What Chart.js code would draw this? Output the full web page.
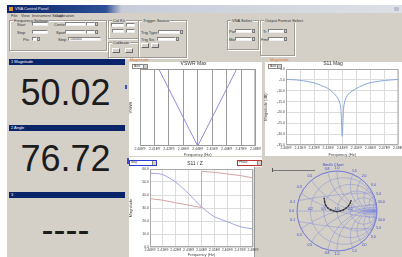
<!DOCTYPE html>
<html>
<head>
<meta charset="utf-8">
<script src="https://cdn.jsdelivr.net/npm/chart.js@4.4.0/dist/chart.umd.min.js"></script>
<style>
body{margin:0;width:402px;height:257px;overflow:hidden;background:#fff;position:relative;font-family:"Liberation Sans",Arial,sans-serif}
#page{position:absolute;left:0;top:0;width:402px;height:257px;filter:blur(0.3px)}
#page div,#page canvas{position:absolute}
.grp{border:1px solid #a09c94;box-shadow:inset 1px 1px 0 #fff,1px 1px 0 #fff}
.grp span{position:absolute;top:-3px;left:3px;background:#d4d0c8;font-size:4px;line-height:5px;padding:0 1px;color:#333;white-space:nowrap}
.tb{background:#fff;border:1px solid #808080;border-right-color:#eee;border-bottom-color:#eee;box-sizing:border-box;font-size:3px;line-height:3px;color:#333;padding-left:1px;white-space:nowrap;overflow:hidden}
.sp{background:#d4d0c8;border:1px solid #7a7a7a;box-sizing:border-box}
.lbl{font-size:4px;line-height:4px;color:#333;white-space:nowrap}
.btn{background:#d4d0c8;border:1px solid #666;border-top-color:#fff;border-left-color:#fff;box-sizing:border-box}
.hdr{left:9px;width:116px;height:6px;background:#0a246a;color:#fff;font-size:4px;line-height:6px;padding-left:2px;box-sizing:border-box}
.big{left:7px;width:117px;text-align:center;font-size:36px;line-height:36px;color:#1c1c1c}
.tab{font-size:4px;line-height:4px;color:#e07a30}
.combo{background:#fff;border:1px solid #888;box-sizing:border-box;font-size:3px;line-height:3px;color:#333;padding-left:1px}
.combo i{position:absolute;right:0;top:0;bottom:0;width:3px;background:#d4d0c8;border-left:1px solid #888}
</style>
</head>
<body>
<div id="page">
<!-- window frame -->
<div style="left:7px;top:5px;width:395px;height:252px;background:#d4d0c8"></div>
<div style="left:7px;top:5px;width:395px;height:8px;background:linear-gradient(90deg,#0a246a 0,#2c4f95 25%,#c7ccd8 29%,#dde0e6 100%)"></div>
<div style="left:9px;top:7px;width:4px;height:4px;background:#e0902c"></div>
<div class="lbl" style="left:15px;top:7px;color:#e8ecf8">VNA Control Panel</div>
<div style="left:394px;top:7px;width:5px;height:4px;background:#b9bfcc"></div>
<div class="lbl" style="left:11px;top:14px">File</div>
<div class="lbl" style="left:21px;top:14px">View</div>
<div class="lbl" style="left:32px;top:14px">Instrument Setup</div>
<div class="lbl" style="left:55px;top:14px">Calibration</div>

<!-- control groups -->
<div class="grp" style="left:9px;top:20px;width:96px;height:29px"><span>Frequency Settings</span></div>
<div class="lbl" style="left:17px;top:23px">Start</div><div class="tb" style="left:32px;top:22px;width:16px;height:4px"></div>
<div class="lbl" style="left:17px;top:31px">Stop</div><div class="tb" style="left:32px;top:30px;width:16px;height:4px"></div>
<div class="lbl" style="left:23px;top:38px">Pts</div><div class="tb" style="left:32px;top:37px;width:5px;height:4px"></div><div class="sp" style="left:37px;top:37px;width:3px;height:4px"></div>
<div class="lbl" style="left:54px;top:23px">Center</div><div class="tb" style="left:65px;top:22px;width:21px;height:4px"></div><div class="tb" style="left:86px;top:22px;width:9px;height:4px"></div><div class="sp" style="left:95px;top:22px;width:3px;height:4px"></div>
<div class="lbl" style="left:56px;top:31px">Span</div><div class="tb" style="left:65px;top:30px;width:21px;height:4px"></div><div class="tb" style="left:86px;top:30px;width:9px;height:4px"></div><div class="sp" style="left:95px;top:30px;width:3px;height:4px"></div>
<div class="lbl" style="left:58px;top:38px">Step</div><div class="tb" style="left:68px;top:37px;width:33px;height:4px">1000000</div>

<div class="grp" style="left:108px;top:20px;width:29px;height:17px"><span>Cal Kit</span></div>
<div class="tb" style="left:111px;top:23px;width:13px;height:4px"></div><div class="tb" style="left:126px;top:23px;width:9px;height:4px"></div>
<div class="tb" style="left:112px;top:29px;width:12px;height:4px"></div><div class="tb" style="left:126px;top:29px;width:9px;height:4px"></div>
<div class="grp" style="left:108px;top:42px;width:29px;height:14px"><span>Calibrate</span></div>
<div class="btn" style="left:112px;top:48px;width:8px;height:5px"></div><div class="btn" style="left:125px;top:48px;width:8px;height:5px"></div>

<div class="grp" style="left:138px;top:20px;width:47px;height:36px"><span>Trigger Source</span></div>
<div class="lbl" style="left:141px;top:31px">Trig Type</div><div class="tb" style="left:158px;top:30px;width:22px;height:4px"></div><div class="sp" style="left:180px;top:30px;width:3px;height:4px"></div>
<div class="lbl" style="left:141px;top:38px">Trig Src</div><div class="tb" style="left:157px;top:37px;width:19px;height:4px"></div><div class="sp" style="left:176px;top:37px;width:3px;height:4px"></div>
<div class="btn" style="left:141px;top:43px;width:8px;height:5px"></div><div class="btn" style="left:151px;top:43px;width:8px;height:5px"></div>

<div class="grp" style="left:227px;top:20px;width:30px;height:28px"><span>VNA Select</span></div>
<div class="lbl" style="left:229px;top:30px">Port</div><div class="tb" style="left:235px;top:29px;width:17px;height:4px"></div><div class="sp" style="left:252px;top:29px;width:3px;height:4px"></div>
<div class="lbl" style="left:229px;top:38px">Mod</div><div class="tb" style="left:235px;top:37px;width:17px;height:4px"></div><div class="sp" style="left:252px;top:37px;width:3px;height:4px"></div>

<div class="grp" style="left:260px;top:20px;width:33px;height:34px"><span>Output Format Select</span></div>
<div class="lbl" style="left:263px;top:30px">Tr</div><div class="tb" style="left:268px;top:29px;width:16px;height:4px"></div><div class="sp" style="left:284px;top:29px;width:3px;height:4px"></div>
<div class="lbl" style="left:261px;top:38px">Fmt</div><div class="tb" style="left:268px;top:37px;width:16px;height:4px"></div><div class="sp" style="left:284px;top:37px;width:3px;height:4px"></div>

<!-- left readouts -->
<div class="hdr" style="top:59px">1 Magnitude</div>
<div class="big" style="top:75px">50.02</div>
<div class="hdr" style="top:125px">2 Angle</div>
<div class="big" style="top:141px">76.72</div>
<div class="hdr" style="top:192px">3</div>
<div class="big" style="top:212px">----</div>
<div style="left:125px;top:85px;width:2px;height:4px;background:#3a4ed0"></div>
<div style="left:127px;top:158px;width:2px;height:6px;background:#3a4ed0"></div>

<!-- chart panels -->
<div style="left:129px;top:62px;width:133px;height:94px;background:#fff"></div>
<div style="left:265px;top:62px;width:137px;height:94px;background:#fff"></div>
<div style="left:129px;top:157px;width:133px;height:100px;background:#fff"></div>
<div style="left:254px;top:167px;width:8px;height:90px;background:#d4d0c8;border-left:1px solid #999"></div>
<div class="tab" style="left:130px;top:58px">Magnitude</div>
<div class="tab" style="left:270px;top:58px">Magnitude</div>
<canvas id="vswr" width="134" height="100" style="left:128px;top:57px"></canvas>
<canvas id="s11" width="142" height="100" style="left:263px;top:57px"></canvas>
<canvas id="dual" width="134" height="100" style="left:128px;top:157px"></canvas>
<canvas id="smith" width="139" height="100" style="left:263px;top:157px"></canvas>
<div class="combo" style="left:132px;top:64px;width:16px;height:5px">Auto<i></i></div>
<div class="combo" style="left:268px;top:64px;width:14px;height:5px">Auto<i></i></div>
<div class="combo" style="left:129px;top:160px;width:28px;height:6px;border:1px solid #2f3bd0">Mag<i></i></div>
<div class="combo" style="left:237px;top:160px;width:25px;height:6px;border:1px solid #b83434">Phase<i></i></div>
<div style="left:272px;top:170px;width:43px;height:1px;background:#777"></div>
<div style="left:272px;top:168px;width:1px;height:4px;background:#555"></div>
</div>

<script>
// frequency axis (MHz)
const freqTicks = [2400, 2410, 2420, 2430, 2440, 2450, 2460, 2470, 2480];
const freqLabels = ['2.40E9', '2.41E9', '2.42E9', '2.43E9', '2.44E9', '2.45E9', '2.46E9', '2.47E9', '2.48E9'];

// VSWR trace
const vswrFreq = [2413, 2440, 2467];
const vswrVals = [2.0, 1.0, 2.0];

// S11 magnitude (dB)
const s11Freq = [2400, 2410, 2420, 2425, 2430, 2433, 2436, 2438, 2439, 2440, 2441, 2442, 2444, 2447, 2450, 2455, 2460, 2470, 2480];
const s11Db = [-4.8, -5.2, -6.4, -7.6, -9.0, -10.6, -12.6, -15.0, -18.0, -31.0, -18.0, -14.5, -11.8, -10.2, -9.0, -7.4, -6.3, -5.3, -4.8];

// magnitude / phase pair
const magFreq = [2400, 2405, 2410, 2420, 2430, 2440, 2450, 2460, 2470, 2480];
const magVals = [56.7, 56.5, 55.7, 49.9, 41.0, 30.9, 23.3, 19.5, 15.7, 13.9];
const phaseFreq = [2400, 2410, 2420, 2430, 2440, 2440, 2450, 2460, 2470, 2480];
const phaseVals = [43, 36, 24, 13, 2, 169, 165, 157, 150, 139];

// smith chart trace (reflection coefficient)
const smithRe = [-0.32, -0.31, -0.28, -0.23, -0.16, -0.08, 0.0, 0.08, 0.16, 0.23, 0.29, 0.33, 0.35];
const smithIm = [0.33, 0.24, 0.15, 0.08, 0.03, 0.0, -0.02, 0.0, 0.03, 0.08, 0.14, 0.21, 0.27];
const smithR = [0, 0.2, 0.5, 1, 2, 5];
const smithX = [0.1, 0.3, 0.5, 0.8, 1, 1.5, 2, 3, 5, 10];

Chart.defaults.animation = false;
Chart.defaults.font.family = 'Liberation Sans';
Chart.defaults.font.size = 3.5;
Chart.defaults.color = '#444';
Chart.defaults.plugins.legend.display = false;
Chart.defaults.plugins.tooltip.enabled = false;

const frame = {
    id: 'frame',
    afterDraw(chart, args, opts) {
        const a = chart.chartArea, ctx = chart.ctx;
        ctx.save();
        ctx.strokeStyle = opts.color || '#888';
        ctx.lineWidth = 1;
        ctx.strokeRect(a.left + 0.5, a.top + 0.5, a.right - a.left - 1, a.bottom - a.top - 1);
        ctx.restore();
    }
};

function fixW(w) { return s => { s.width = w; }; }
function fixH(h) { return s => { s.height = h; }; }
function freqLabel(v) { const i = freqTicks.indexOf(v); return i < 0 ? '' : freqLabels[i]; }
function pts(xs, ys) { return xs.map((x, i) => ({ x: x, y: ys[i] })); }

function freqAxis(h, gridColor) {
    return {
        type: 'linear', min: freqTicks[0], max: freqTicks[freqTicks.length - 1],
        afterFit: fixH(h),
        ticks: { stepSize: 10, autoSkip: false, maxRotation: 0, padding: 1, callback: freqLabel },
        grid: { color: gridColor, drawTicks: false },
        border: { display: false },
        title: { display: true, text: 'Frequency (Hz)', padding: 0, font: { size: 4 } }
    };
}

function titleOpt(text) {
    return { display: true, text: text, font: { size: 5, weight: 'normal' }, color: '#333', padding: { top: 4, bottom: 2 } };
}

// VSWR
new Chart(document.getElementById('vswr'), {
    type: 'scatter',
    data: { datasets: [{ data: pts(vswrFreq, vswrVals), showLine: true, borderColor: '#8c8ce0', borderWidth: 1, pointRadius: 0 }] },
    options: {
        responsive: false,
        layout: { padding: { left: 0, right: 3, top: 0, bottom: 0 } },
        plugins: { title: titleOpt('VSWR Max'), frame: { color: '#999' } },
        scales: {
            x: freqAxis(11, '#9a9a9a'),
            y: {
                min: 1, max: 2, afterFit: fixW(12),
                ticks: { display: false }, grid: { display: false }, border: { display: false },
                title: { display: true, text: 'VSWR', padding: 0, font: { size: 4 } }
            }
        }
    },
    plugins: [frame]
});

// S11 magnitude
new Chart(document.getElementById('s11'), {
    type: 'scatter',
    data: { datasets: [{ data: pts(s11Freq, s11Db), showLine: true, tension: 0.3, borderColor: '#86a8dc', borderWidth: 1, pointRadius: 0 }] },
    options: {
        responsive: false,
        layout: { padding: { left: 0, right: 2, top: 0, bottom: 0 } },
        plugins: { title: titleOpt('S11 Mag'), frame: { color: '#aaa' } },
        scales: {
            x: freqAxis(12, '#dcdcdc'),
            y: {
                min: -35, max: 0, afterFit: fixW(23),
                ticks: { stepSize: 5, padding: 1, callback: v => v.toFixed(1) },
                grid: { color: '#dcdcdc', drawTicks: false }, border: { display: false },
                title: { display: true, text: 'Magnitude (dB)', padding: 0, font: { size: 4 } }
            }
        }
    },
    plugins: [frame]
});

// magnitude + phase
new Chart(document.getElementById('dual'), {
    type: 'scatter',
    data: {
        datasets: [
            { data: pts(magFreq, magVals), showLine: true, tension: 0.3, borderColor: '#9ea2e6', borderWidth: 1, pointRadius: 0, yAxisID: 'y' },
            { data: pts(phaseFreq, phaseVals), showLine: true, borderColor: '#d9a0a0', borderWidth: 1, pointRadius: 0, yAxisID: 'y2' }
        ]
    },
    options: {
        responsive: false,
        layout: { padding: 0 },
        plugins: { title: titleOpt('S11 / Z'), frame: { color: '#aaa' } },
        scales: {
            x: freqAxis(10, '#dcdcdc'),
            y: {
                position: 'left', min: 0, max: 60, afterFit: fixW(22),
                ticks: { stepSize: 5, padding: 1, callback: v => v.toFixed(1) },
                grid: { color: '#dcdcdc', drawTicks: false }, border: { display: false },
                title: { display: true, text: 'Magnitude', padding: 0, font: { size: 4 } }
            },
            y2: {
                position: 'right', min: -180, max: 180, afterFit: fixW(9),
                ticks: { stepSize: 30, padding: 1 },
                grid: { display: false }, border: { display: false }
            }
        }
    },
    plugins: [frame]
});

// smith chart
const smithGrid = {
    id: 'smithGrid',
    beforeDatasetsDraw(chart) {
        const ctx = chart.ctx, sx = chart.scales.x, sy = chart.scales.y;
        const px = v => sx.getPixelForValue(v), py = v => sy.getPixelForValue(v);
        const u = px(1) - px(0);
        ctx.save();
        ctx.strokeStyle = '#5862d6';
        ctx.lineWidth = 0.8;
        ctx.beginPath();
        ctx.arc(px(0), py(0), u, 0, 2 * Math.PI);
        ctx.stroke();
        ctx.clip();
        ctx.strokeStyle = '#7f88dc';
        ctx.lineWidth = 0.45;
        smithR.forEach(r => {
            ctx.beginPath();
            ctx.arc(px(r / (1 + r)), py(0), u / (1 + r), 0, 2 * Math.PI);
            ctx.stroke();
        });
        smithX.forEach(x => {
            [x, -x].forEach(s => {
                ctx.beginPath();
                ctx.arc(px(1), py(1 / s), u / x, 0, 2 * Math.PI);
                ctx.stroke();
            });
        });
        ctx.beginPath();
        ctx.moveTo(px(-1), py(0));
        ctx.lineTo(px(1), py(0));
        ctx.stroke();
        ctx.restore();

        ctx.save();
        ctx.fillStyle = '#3a46c8';
        ctx.font = '3.5px "Liberation Sans"';
        ctx.textAlign = 'center';
        ctx.textBaseline = 'middle';
        smithX.forEach(x => {
            [x, -x].forEach(s => {
                const d = s * s + 1;
                const gr = (s * s - 1) / d, gi = 2 * s / d;
                ctx.fillText(x.toFixed(1), px(gr * 1.13), py(gi * 1.13));
            });
        });
        ctx.fillText('0.0', px(-1.13), py(0));
        smithR.slice(1, 5).forEach(r => {
            ctx.fillText(r.toFixed(1), px((r - 1) / (r + 1)), py(0.06));
        });
        ctx.font = '4px "Liberation Sans"';
        ctx.fillText('Smith Chart', px(-0.1), py(1.22));
        ctx.restore();
    }
};

new Chart(document.getElementById('smith'), {
    type: 'scatter',
    data: { datasets: [{ data: pts(smithRe, smithIm), showLine: true, tension: 0.3, borderColor: '#505050', borderWidth: 1.2, pointRadius: 0.8, pointBackgroundColor: '#303030', pointBorderWidth: 0 }] },
    options: {
        responsive: false,
        layout: { padding: { left: 30, right: 21, top: 12, bottom: 0 } },
        scales: {
            x: { display: false, min: -1.1, max: 1.1 },
            y: { display: false, min: -1.1, max: 1.1 }
        }
    },
    plugins: [smithGrid]
});
</script>
</body>
</html>
